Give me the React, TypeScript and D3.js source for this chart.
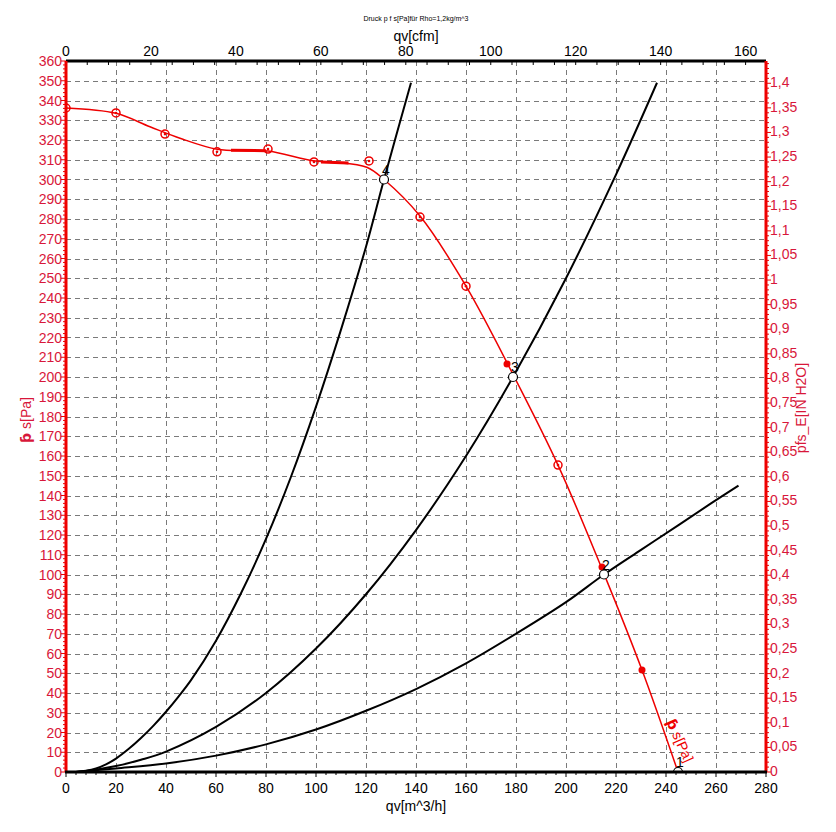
import React from "react";
import * as d3 from "d3";

const width = 836;
const height = 832;
const plot = { left: 66, right: 766, top: 61, bottom: 772 };

// axis ticks
const qvTicks = d3.range(0, 281, 20);
const cfmTicks = d3.range(0, 161, 20);
const paTicks = d3.range(0, 361, 10);
const inTicks = d3.range(0, 29).map((i) => i * 0.05);
const inLabels = inTicks.map((v) => (v === 0 ? "0" : String(+v.toFixed(2)).replace(".", ",")));

// fan curve (red)
const fanQv = [0, 20, 33.6, 45.6, 60.5, 72.4, 80.8, 98.9, 106.8, 120.3, 127.2, 141.6, 160, 178.8, 196.8, 215.2, 230.4, 244.8];
const fanP = [336.2, 333.5, 326.7, 320.9, 315.3, 314.6, 314.4, 309.5, 308.7, 306.2, 300, 281.5, 246, 201.3, 155.4, 100.3, 51.6, 0];

// measured points on fan curve
const markQv = [0, 20, 39.6, 60.4, 80.8, 99.2, 121.2, 141.6, 160, 176.4, 196.8, 214.4, 230.4];
const markP = [336.2, 333.7, 323, 314, 315.4, 308.9, 309.4, 281, 246, 206.6, 155.4, 103.8, 51.6];
const markFilled = [false, false, false, false, false, false, false, false, false, true, false, true, true];

// heavier stretches on the fan curve
const thickQv = [[66, 80], [102, 113]];
const thickP = [[314.8, 314.6], [308.8, 308.4]];

// operating points
const opQv = [244.8, 215.2, 178.8, 127.2];
const opP = [0, 100, 200, 300];
const opLabels = ["1", "2", "3", "4"];

// system curves (black)
const sys2Qv = [4, 20, 40, 60, 80, 100, 120, 140, 160, 180, 200, 215.2, 230, 245, 258, 269];
const sys2P = [0, 1.8, 4.3, 8.3, 14, 21.5, 31, 42, 55, 70, 86, 100, 112.5, 125, 136, 145];
const sys3Qv = [4, 12, 20, 30, 40, 60, 80, 100, 120, 140, 160, 178.8, 200, 220, 236.4];
const sys3P = [0, 1.2, 3, 6.2, 10.3, 22.8, 40, 62.5, 90, 122.5, 160, 200, 250, 302.5, 349];
const sys4Qv = [4, 8, 12, 16, 20, 25, 30, 35, 40, 45, 50, 60, 70, 80, 90, 100, 110, 120, 127.2, 138];
const sys4P = [0, 0.6, 1.8, 3.9, 6.8, 11.6, 17.2, 23.5, 30.5, 38.2, 46.5, 66.5, 90.5, 118, 149.5, 185, 224, 266, 300, 349];

const RED = "#ee0000";
const REDTXT = "#d8173a";
const FONT = "'Liberation Sans', Arial, sans-serif";

const x = d3.scaleLinear().domain([0, 280]).range([plot.left, plot.right]);
const y = d3.scaleLinear().domain([0, 360]).range([plot.bottom, plot.top]);
const xCfm = d3.scaleLinear().domain([0, 280 / 1.699]).range([plot.left, plot.right]);
const yIn = d3.scaleLinear().domain([0, 360 / 249.09]).range([plot.bottom, plot.top]);

const zip = (a: number[], b: number[]) => a.map((v, i) => [v, b[i]] as [number, number]);

const fanLine = d3
  .line<[number, number]>()
  .x((d) => x(d[0]))
  .y((d) => y(d[1]))
  .curve(d3.curveCatmullRom.alpha(0.5));

const sysLine = d3
  .line<[number, number]>()
  .x((d) => x(d[0]))
  .y((d) => y(d[1]))
  .curve(d3.curveCatmullRom.alpha(0.5));

export default function App() {
  const minorPa = d3.range(0, 361, 2);
  const minorIn = d3.range(0, 145).map((i) => i * 0.01);
  const minorQv = d3.range(0, 281, 4);
  const minorCfm = d3.range(0, 165, 5);

  return (
    <svg
      width={width}
      height={height}
      style={{ position: "absolute", left: 0, top: 0, background: "#fff" }}
      fontFamily={FONT}
    >
      <defs>
        <clipPath id="plotClip">
          <rect x={plot.left} y={plot.top} width={plot.right - plot.left} height={plot.bottom - plot.top} />
        </clipPath>
      </defs>
      <rect width={width} height={height} fill="#fff" />

      {/* grid */}
      <g stroke="#7a7a7a" strokeWidth={1} strokeDasharray="5,4" shapeRendering="crispEdges">
        {paTicks.slice(1, -1).map((p) => (
          <line key={"h" + p} x1={plot.left} x2={plot.right} y1={Math.round(y(p)) + 0.5} y2={Math.round(y(p)) + 0.5} />
        ))}
        {qvTicks.slice(1, -1).map((q) => (
          <line key={"v" + q} y1={plot.top} y2={plot.bottom} x1={Math.round(x(q)) + 0.5} x2={Math.round(x(q)) + 0.5} />
        ))}
      </g>

      {/* titles */}
      <text x={416} y={21} fontSize={7} textAnchor="middle" fill="#000">
        Druck p f s[Pa]für Rho=1,2kg/m^3
      </text>
      <text x={416} y={41} fontSize={14} textAnchor="middle" fill="#000">
        qv[cfm]
      </text>
      <text x={416} y={811} fontSize={14} textAnchor="middle" fill="#000">
        qv[m^3/h]
      </text>
      <text transform="translate(31,420) rotate(-90)" fontSize={14} textAnchor="middle" fill={REDTXT}>
        <tspan fontFamily="'DejaVu Sans'" fontWeight="bold">ƥ</tspan> s[Pa]
      </text>
      <text transform="translate(806,408) rotate(-90)" fontSize={14} textAnchor="middle" fill={REDTXT}>
        pfs_E[IN H2O]
      </text>

      {/* top axis (cfm) */}
      <g>
        {minorCfm.map((c) => (
          <line key={"mc" + c} x1={xCfm(c)} x2={xCfm(c)} y1={plot.top} y2={plot.top + 4} stroke="#000" strokeWidth={1} />
        ))}
        {cfmTicks.map((c) => (
          <text key={"tc" + c} x={xCfm(c)} y={56} fontSize={14} textAnchor="middle" fill="#000">
            {c}
          </text>
        ))}
        <line x1={plot.left} x2={plot.right} y1={plot.top} y2={plot.top} stroke="#000" strokeWidth={3} />
      </g>

      {/* bottom axis (m^3/h) */}
      <g>
        {minorQv.map((q) => (
          <line key={"mq" + q} x1={x(q)} x2={x(q)} y1={plot.bottom} y2={plot.bottom + (q % 20 === 0 ? 5 : 3)} stroke="#000" strokeWidth={1} />
        ))}
        {qvTicks.map((q) => (
          <text key={"tq" + q} x={x(q)} y={793} fontSize={14} textAnchor="middle" fill="#000">
            {q}
          </text>
        ))}
      </g>

      {/* curves */}
      <g clipPath="url(#plotClip)">
        {[zip(sys2Qv, sys2P), zip(sys3Qv, sys3P), zip(sys4Qv, sys4P)].map((pts, i) => (
          <path key={"s" + i} d={sysLine(pts) || ""} fill="none" stroke="#000" strokeWidth={2} />
        ))}
        <path d={fanLine(zip(fanQv, fanP)) || ""} fill="none" stroke={RED} strokeWidth={1.5} />
        {thickQv.map((qs, i) => (
          <line key={"t" + i} x1={x(qs[0])} x2={x(qs[1])} y1={y(thickP[i][0])} y2={y(thickP[i][1])} stroke={RED} strokeWidth={3} />
        ))}
        {markQv.map((q, i) =>
          markFilled[i] ? (
            <circle key={"m" + i} cx={x(q)} cy={y(markP[i])} r={3.5} fill={RED} />
          ) : (
            <g key={"m" + i}>
              <circle cx={x(q)} cy={y(markP[i])} r={4} fill="none" stroke={RED} strokeWidth={1.5} />
              <circle cx={x(q)} cy={y(markP[i])} r={1.3} fill={RED} />
            </g>
          )
        )}
        {opQv.map((q, i) => (
          <circle key={"o" + i} cx={x(q)} cy={y(opP[i])} r={4.5} fill="#fff" stroke="#000" strokeWidth={1.2} />
        ))}
      </g>
      {opQv.map((q, i) => (
        <text key={"ol" + i} x={x(q) - 2} y={y(opP[i]) - 5} fontSize={14} fill="#000">
          {opLabels[i]}
        </text>
      ))}
      <text transform={`translate(${x(240)},${y(25.5)}) rotate(65.5)`} fontSize={14} fill={RED}>
        <tspan fontFamily="'DejaVu Sans'" fontWeight="bold">ƥ</tspan> s[Pa]
      </text>

      {/* left axis (Pa) */}
      <g>
        {minorPa.map((p) => (
          <line key={"mp" + p} x1={plot.left - (p % 10 === 0 ? 5 : 3)} x2={plot.left} y1={y(p)} y2={y(p)} stroke={RED} strokeWidth={1} />
        ))}
        {paTicks.map((p) => (
          <text key={"tp" + p} x={62} y={y(p) + 5} fontSize={14} textAnchor="end" fill={REDTXT}>
            {p}
          </text>
        ))}
        <line x1={plot.left} x2={plot.left} y1={plot.top} y2={plot.bottom} stroke={RED} strokeWidth={3} />
      </g>

      {/* right axis (inH2O) */}
      <g>
        {minorIn.map((v, i) => (
          <line key={"mi" + i} x1={plot.right} x2={plot.right + (i % 5 === 0 ? 5 : 3)} y1={yIn(v)} y2={yIn(v)} stroke={RED} strokeWidth={1} />
        ))}
        {inTicks.map((v, i) => (
          <text key={"ti" + i} x={770} y={yIn(v) + 4} fontSize={14} fill={REDTXT}>
            {inLabels[i]}
          </text>
        ))}
        <line x1={plot.right} x2={plot.right} y1={plot.top} y2={plot.bottom} stroke={RED} strokeWidth={3} />
      </g>
      <line x1={plot.left - 1} x2={plot.right + 1} y1={plot.bottom} y2={plot.bottom} stroke="#000" strokeWidth={3} />
    </svg>
  );
}
